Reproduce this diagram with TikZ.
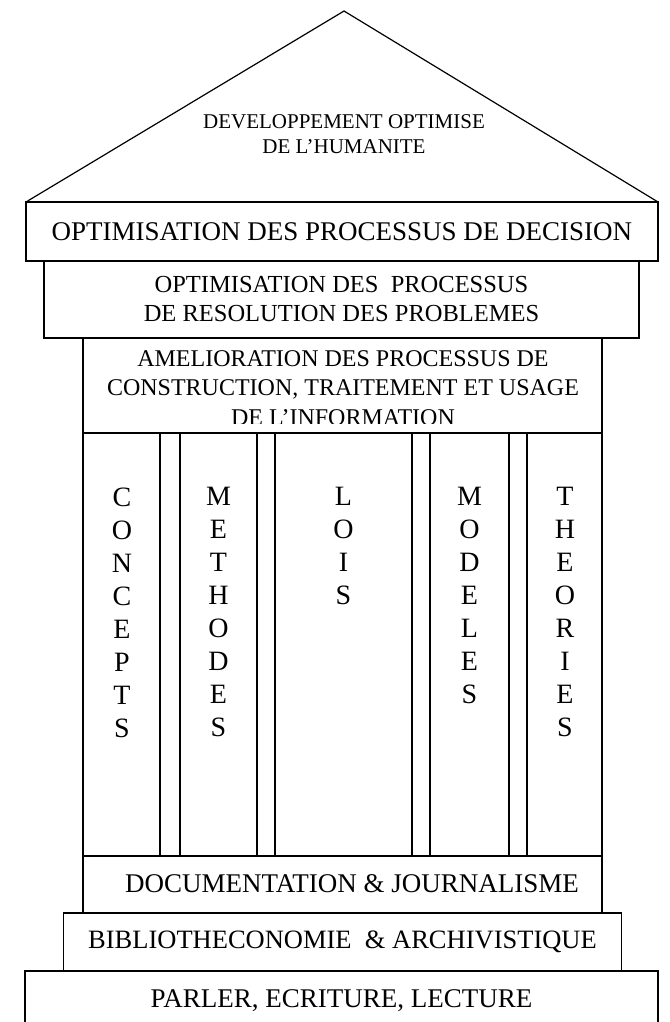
\documentclass[tikz,border=0pt]{standalone}
\usepackage{fontspec}
\setmainfont{Liberation Serif}
\begin{document}
\begin{tikzpicture}[x=1pt, y=-1pt, line width=1.2pt,
    every node/.style={draw, rectangle, inner sep=0pt, align=center},
    letters/.style={draw=none, anchor=north, font=\fontsize{28}{33}\selectfont}]
    \useasboundingbox (0, 0) rectangle (669, 1022);
    \clip (0, 0) rectangle (669, 1022);

    % Roof
    \draw[line join=miter] (26, 202) -- (344, 11) -- (658, 202);
    \node[draw=none, font=\fontsize{21}{25}\selectfont] at (344, 134) (humanite)
        {DEVELOPPEMENT OPTIMISE\\DE L’HUMANITE};

    % Beams
    \node[minimum width=632, minimum height=59, font=\fontsize{27}{30}\selectfont]
        at (342, 231.5) (decision) {OPTIMISATION DES PROCESSUS DE DECISION};
    \node[minimum width=595, minimum height=77, font=\fontsize{24.5}{29}\selectfont]
        at (341.5, 299.5) (resolution) {OPTIMISATION DES\ \ PROCESSUS\\DE RESOLUTION DES PROBLEMES};
    \node[minimum width=519, minimum height=95] at (342.5, 385.5) (information) {};
    \begin{scope}
        \clip (83, 338) rectangle (602, 423);
        \node[draw=none, font=\fontsize{24}{29.5}\selectfont] at (343, 388) (infotext)
            {AMELIORATION DES PROCESSUS DE\\CONSTRUCTION, TRAITEMENT ET USAGE\\DE L’INFORMATION};
    \end{scope}

    % Columns
    \draw (83, 433) rectangle (602, 856);
    \foreach \x in {160, 180, 257, 275, 412, 430, 509, 527}
        \draw (\x, 433) -- (\x, 856);
    \node[letters] at (122, 487) (concepts) {C\\O\\N\\C\\E\\P\\T\\S};
    \node[letters] at (218.5, 487) (methodes) {M\\E\\T\\H\\O\\D\\E\\S};
    \node[letters] at (343.5, 487) (lois) {L\\O\\I\\S};
    \node[letters] at (469.5, 487) (modeles) {M\\O\\D\\E\\L\\E\\S};
    \node[letters] at (565, 487) (theories) {T\\H\\E\\O\\R\\I\\E\\S};

    % Steps
    \node[minimum width=519, minimum height=57] at (342.5, 884.5) (documentation) {};
    \node[draw=none, font=\fontsize{27}{30}\selectfont] at (352, 884) (doctext)
        {DOCUMENTATION \& JOURNALISME};
    \node[minimum width=558, minimum height=58, font=\fontsize{26.5}{29}\selectfont]
        at (342.5, 942) (biblio) {BIBLIOTHECONOMIE\ \ \& ARCHIVISTIQUE};
    \node[minimum width=633, minimum height=60, font=\fontsize{27}{30}\selectfont]
        at (341.5, 1001) (parler) {PARLER, ECRITURE, LECTURE};
\end{tikzpicture}
\end{document}
